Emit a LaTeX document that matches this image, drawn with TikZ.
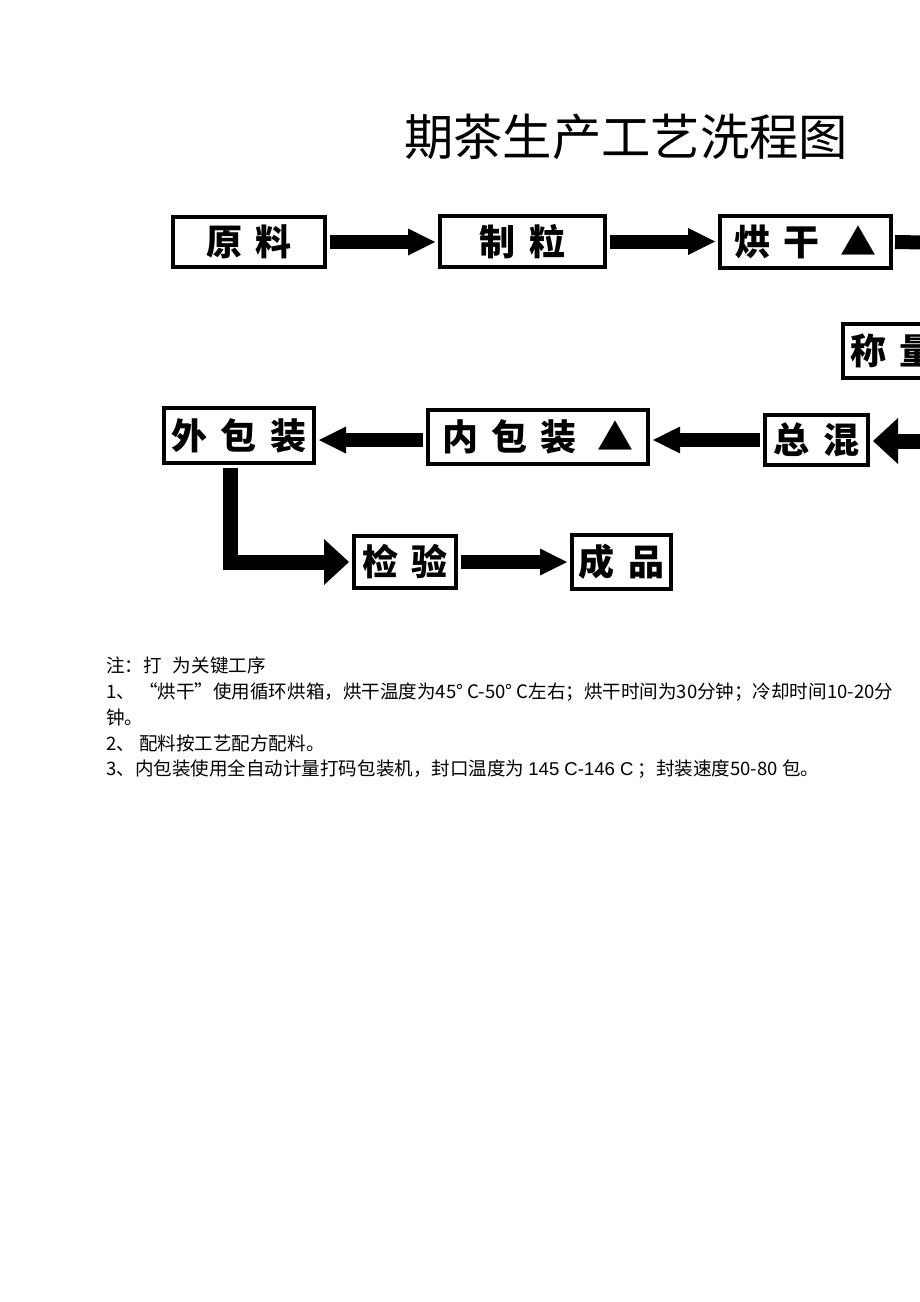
\documentclass[tikz,border=0pt]{standalone}
\usepackage{fontspec}
\setmainfont{Noto Sans CJK SC}
\newfontfamily\arialf{Liberation Sans}
\usetikzlibrary{arrows.meta,calc}
\newcommand\gapx{\hspace{10pt}}
\begin{document}
\begin{tikzpicture}[x=0.75pt,y=-0.75pt,
  box/.style 2 args={draw, line width=3pt, inner sep=0pt,
    minimum width=#1*0.75pt, minimum height=#2*0.75pt,
    font=\fontsize{27}{27}\selectfont\bfseries},
  arr/.style={line width=10.5pt,
    -{Triangle[length=20.25pt,width=20.25pt,line width=0pt]},
    shorten <=2.25pt, shorten >=2.25pt},
  arrbig/.style={line width=11.25pt,
    -{Triangle[length=18.75pt,width=34.5pt,line width=0pt]},
    shorten <=2.25pt, shorten >=2.25pt},
  shaft/.style={line width=10.5pt, shorten <=1.5pt},
  note/.style={anchor=west, inner sep=0pt, font=\fontsize{13.9}{13.9}\selectfont},
  titlefont/.style={font=\fontsize{37}{37}\selectfont}]
\useasboundingbox (0,0) rectangle (920,1302);
\clip (0,0) rectangle (920,1302);
\fill[white] (0,0) rectangle (920,1302);

% title
\node[titlefont, inner sep=0pt] (title) at (626,137) {期茶生产工艺洗程图};

% boxes (centres and path sizes in px)
\node[box={152}{50}] (yl)  at (249,242)   {原\gapx 料};
\node[box={165}{51}] (zl)  at (522.5,241.5) {制\gapx 粒};
\node[box={171}{52}] (hg)  at (805.5,242)  {烘\gapx 干\hspace{16pt}▲};
\node[box={100}{54}] (cl)  at (893,351)    {称\gapx 量};
\node[box={103}{50}] (zh)  at (816.5,440)  {总\gapx 混};
\node[box={220}{54}] (nbz) at (538,437)    {内\gapx 包\gapx 装\hspace{16pt}▲};
\node[box={150}{55}] (wbz) at (239,435.5)  {外\gapx 包\gapx 装};
\node[box={102}{52}] (jy)  at (405,562)    {检\gapx 验};
\node[box={99}{54}]  (cp)  at (621.5,562)  {成\gapx 品};

% free ends (beyond the page edge) and helper points
\coordinate (o1) at (960,243);
\coordinate (i1) at (960,441);
\coordinate (nw) at ($(nbz.west)+(0,3)$);
\coordinate (ws) at ($(wbz.south)+(-8.5,0)$);

% connectors
\draw[arr] (yl.east) -- (yl.east -| zl.west);
\draw[arr] (zl.east) -- (zl.east -| hg.west);
\draw[shaft] (hg.east) -- (o1);
\draw[arrbig] (i1) -- (i1 -| zh.east);
\draw[arr] (zh.west) -- (zh.west -| nbz.east);
\draw[arr] (nw) -- (nw -| wbz.east);
\draw[arrbig] (ws) |- (jy.west);
\draw[arr] (jy.east) -- (jy.east -| cp.west);

% notes
\node[note] (n1) at (106,665) {注：打\hspace{0.6em}为关键工序};
\node[note] (n2) at (106,692) {1、 “烘干”使用循环烘箱，烘干温度为45° C-50° C左右；烘干时间为30分钟；冷却时间10-20分};
\node[note] (n3) at (106,717) {钟。};
\node[note] (n4) at (106,743) {2、 配料按工艺配方配料。};
\node[note] (n5) at (106,769) {3、内包装使用全自动计量打码包装机，封口温度为 {\arialf 145 C-146 C} ；封装速度50-80 包。};
\end{tikzpicture}
\end{document}
